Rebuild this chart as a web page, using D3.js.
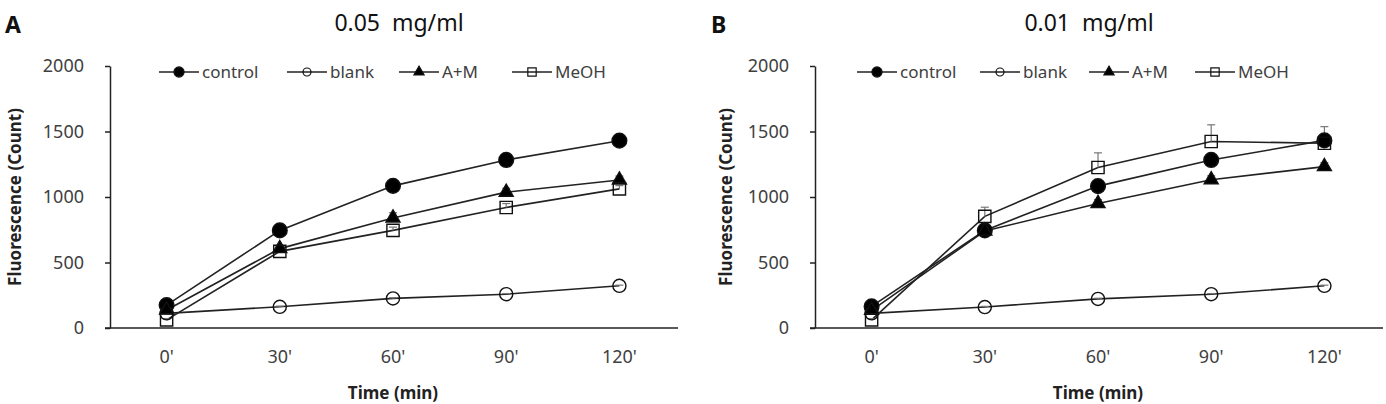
<!DOCTYPE html>
<html>
<head>
<meta charset="utf-8">
<script src="https://cdn.jsdelivr.net/npm/d3@7"></script>
<style>
  body { margin: 0; background: #fff; }
  svg { display: block; font-family: "Noto Sans", sans-serif; }
</style>
</head>
<body>
<svg id="chart" width="1386" height="404"></svg>
<script>
// time points
const times = ["0'", "30'", "60'", "90'", "120'"];
const yTicks = [0, 500, 1000, 1500, 2000];
const seriesNames = ["control", "blank", "A+M", "MeOH"];

// panel A, 0.05 mg/ml
const controlA = [175, 745, 1085, 1283, 1430];
const blankA   = [112, 162, 226, 258, 322];
const amA      = [137, 606, 840, 1037, 1130];
const meohA    = [62, 585, 745, 920, 1062];
const controlErrA = [15, 20, 20, 20, 20];
const blankErrA   = [5, 5, 5, 5, 5];
const amErrA      = [10, 20, 40, 30, 30];
const meohErrA    = [10, 20, 25, 30, 25];

// panel B, 0.01 mg/ml
const controlB = [165, 745, 1083, 1283, 1432];
const blankB   = [112, 160, 222, 258, 322];
const amB      = [135, 740, 950, 1132, 1232];
const meohB    = [62, 852, 1225, 1424, 1410];
const controlErrB = [15, 20, 30, 30, 105];
const blankErrB   = [5, 5, 5, 5, 5];
const amErrB      = [10, 20, 30, 30, 30];
const meohErrB    = [10, 70, 112, 127, 30];

const svg = d3.select("#chart");
// open markers are hollow, the line shows through them
const symbols = {
  "control": {type: d3.symbolCircle, fill: "#000", size: 170, lsize: 80},
  "blank": {type: d3.symbolCircle, fill: "none", size: 135, lsize: 50},
  "A+M": {type: d3.symbolTriangle, fill: "#000", size: 85, lsize: 45},
  "MeOH": {type: d3.symbolSquare, fill: "none", size: 150, lsize: 70}
};

function drawPanel(p) {
  const g = svg.append("g");
  const x = d3.scaleBand().domain(times).range([p.left, p.left + 566]).padding(0);
  const y = d3.scaleLinear().domain([0, 2000]).range([328, 66]);

  // y axis
  const ya = g.append("g")
      .attr("transform", `translate(${p.left},0)`)
      .call(d3.axisLeft(y).tickValues(yTicks).tickFormat(d3.format("d"))
        .tickSize(5).tickPadding(21).tickSizeOuter(0));
  ya.select(".domain").attr("stroke", "#222").attr("stroke-width", 1.5);
  ya.selectAll(".tick line").attr("stroke", "#222").attr("stroke-width", 1.5);
  ya.selectAll(".tick text").attr("font-size", 18).attr("fill", "#404040")
      .attr("font-family", "Noto Sans");

  // x axis
  const xa = g.append("g")
      .attr("transform", "translate(0,328)")
      .call(d3.axisBottom(x).tickSize(0).tickPadding(22).tickSizeOuter(0));
  xa.select(".domain").attr("stroke", "#222").attr("stroke-width", 1.5)
      .attr("d", `M${p.left - 5},0H${p.left + 568}`);
  xa.selectAll(".tick text").attr("font-size", 18).attr("fill", "#404040")
      .attr("font-family", "Noto Sans");

  // axis titles
  g.append("text")
      .attr("transform", `translate(${p.ylabX},197) rotate(-90)`)
      .attr("text-anchor", "middle")
      .attr("dy", "0.35em")
      .attr("font-size", 17).attr("font-weight", "bold").attr("fill", "#222")
      .text("Fluorescence  (Count)");
  g.append("text")
      .attr("x", x(times[2]) + x.bandwidth() / 2).attr("y", 399)
      .attr("text-anchor", "middle")
      .attr("font-size", 17).attr("font-weight", "bold").attr("fill", "#222")
      .text("Time (min)");

  // panel letter and title
  g.append("text").attr("x", p.letterX).attr("y", 33)
      .attr("font-size", 23).attr("font-weight", "bold").attr("fill", "#111")
      .text(p.letter);
  g.append("text").attr("x", p.titleX).attr("y", 31)
      .attr("text-anchor", "middle")
      .attr("font-size", 23).attr("fill", "#111")
      .style("white-space", "pre")
      .text(p.title);

  const cx = d => x(d) + x.bandwidth() / 2;
  const line = d3.line().x((d, i) => cx(times[i])).y(d => y(d));

  // lines
  p.series.forEach(s => {
    g.append("path")
        .datum(s.values)
        .attr("fill", "none")
        .attr("stroke", "#222")
        .attr("stroke-width", 1.6)
        .attr("d", line);
  });

  // error bars (upper only)
  p.series.forEach(s => {
    s.values.forEach((v, i) => {
      const xx = cx(times[i]);
      g.append("line")
          .attr("x1", xx).attr("x2", xx)
          .attr("y1", y(v)).attr("y2", y(v + s.err[i]))
          .attr("stroke", "#777").attr("stroke-width", 1.2);
      g.append("line")
          .attr("x1", xx - 4).attr("x2", xx + 4)
          .attr("y1", y(v + s.err[i])).attr("y2", y(v + s.err[i]))
          .attr("stroke", "#777").attr("stroke-width", 1.2);
    });
  });

  // markers
  p.series.forEach(s => {
    const sym = symbols[s.name];
    g.selectAll(null)
        .data(s.values)
        .join("path")
        .attr("transform", (d, i) => `translate(${cx(times[i])},${y(d)})`)
        .attr("d", d3.symbol().type(sym.type).size(sym.size))
        .attr("fill", sym.fill)
        .attr("stroke", "#111")
        .attr("stroke-width", 1.4);
  });

  // legend
  seriesNames.forEach((name, i) => {
    const lx = p.legendX[i];
    const sym = symbols[name];
    g.append("line")
        .attr("x1", lx).attr("x2", lx + 40)
        .attr("y1", 72).attr("y2", 72)
        .attr("stroke", "#222").attr("stroke-width", 1.6);
    g.append("path")
        .attr("transform", `translate(${lx + 20},72)`)
        .attr("d", d3.symbol().type(sym.type).size(sym.lsize))
        .attr("fill", sym.fill)
        .attr("stroke", "#111")
        .attr("stroke-width", 1.2);
    g.append("text")
        .attr("x", lx + 43).attr("y", 72)
        .attr("dy", "0.35em")
        .attr("font-size", 17).attr("fill", "#404040")
        .text(name);
  });
}

drawPanel({
  left: 110, ylabX: 15, letter: "A", letterX: 5, title: "0.05  mg/ml", titleX: 399,
  legendX: [159, 287, 399, 512],
  series: [
    {name: "control", values: controlA, err: controlErrA},
    {name: "blank", values: blankA, err: blankErrA},
    {name: "A+M", values: amA, err: amErrA},
    {name: "MeOH", values: meohA, err: meohErrA}
  ]
});

drawPanel({
  left: 815, ylabX: 726, letter: "B", letterX: 711, title: "0.01  mg/ml", titleX: 1089,
  legendX: [857, 980, 1089, 1195],
  series: [
    {name: "control", values: controlB, err: controlErrB},
    {name: "blank", values: blankB, err: blankErrB},
    {name: "A+M", values: amB, err: amErrB},
    {name: "MeOH", values: meohB, err: meohErrB}
  ]
});
</script>
</body>
</html>
